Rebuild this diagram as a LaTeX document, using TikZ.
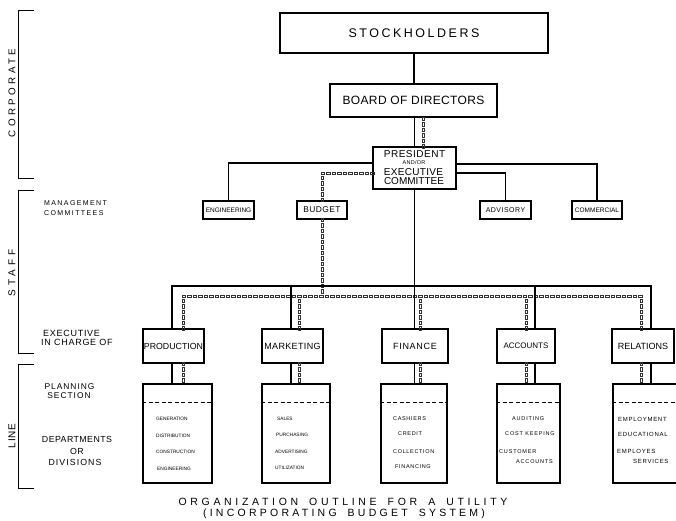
\documentclass[tikz,border=0pt]{standalone}
\usepackage{fontspec}
\setmainfont{Liberation Sans}
\usetikzlibrary{decorations.markings}
\newcommand{\myfont}[3]{\fontsize{#1}{#2}\selectfont\addfontfeature{LetterSpace=#3}}
\tikzset{
  box/.style={draw, line width=1.3pt, inner sep=0pt, align=center},
  conn/.style={line width=1.3pt},
  chainln/.style={decoration={markings,
      mark=between positions 0 and 1 step 5.5pt with
      {\draw[line width=0.5pt, black!80] (-1.8pt,-1.2pt) rectangle (1.8pt,1.2pt);}},
    decorate},
  dline/.style={line width=0.8pt, dash pattern=on 4pt off 2.5pt},
  brk/.style={line width=0.9pt},
  txt/.style={inner sep=0pt},
  ltxt/.style={inner sep=0pt, anchor=west},
  ttl/.style={inner sep=0pt, font={\fontsize{10.5}{11}\selectfont\addfontfeature{LetterSpace=#1}\spaceskip=11pt}},
}
\begin{document}
\begin{tikzpicture}[x=1pt,y=-1pt]
\useasboundingbox (0,0) rectangle (676,521);

% ---- brackets and side labels ----
\draw[brk] (34,10) -- (18,10) -- (18,178) -- (34,178);
\draw[brk] (34,190) -- (18,190) -- (18,353) -- (34,353);
\draw[brk] (34,364) -- (18,364) -- (18,488) -- (34,488);
\node[txt, rotate=90, font=\myfont{9.8}{10}{35}] (corp) at (12,93) {CORPORATE};
\node[txt, rotate=90, font=\myfont{10}{10}{40}] (staff) at (12,273) {STAFF};
\node[txt, rotate=90, font=\myfont{10}{10}{8}] (linel) at (12,436) {LINE};

\node[ltxt, font=\myfont{7}{8}{20}] (lm1) at (44,203) {MANAGEMENT};
\node[ltxt, font=\myfont{7}{8}{20}] (lm2) at (44,213) {COMMITTEES};
\node[ltxt, font=\myfont{9}{9}{8}] (le1) at (43,333) {EXECUTIVE};
\node[ltxt, font=\myfont{9}{9}{8}] (le2) at (41,342) {IN CHARGE OF};
\node[txt, font=\myfont{8.4}{9}{12}] (lp1) at (69.5,387) {PLANNING};
\node[txt, font=\myfont{8.4}{9}{12}] (lp2) at (69,396) {SECTION};
\node[txt, font=\myfont{8.8}{9}{5}] (ld1) at (77,439.5) {DEPARTMENTS};
\node[txt, font=\myfont{8.8}{9}{5}] (ld2) at (77,451) {OR};
\node[txt, font=\myfont{8.8}{9}{12}] (ld3) at (75,462.5) {DIVISIONS};

% ---- corporate ----
\node[box, minimum width=268pt, minimum height=40pt, font=\myfont{12.5}{14}{20}] (stock) at (414,33) {STOCKHOLDERS};
\node[box, minimum width=167pt, minimum height=33pt, font=\myfont{12}{14}{3}] (board) at (413.5,100.5) {BOARD OF DIRECTORS};
\node[box, minimum width=83pt, minimum height=42pt] (pres) at (414.5,168) {};
\node[txt, font=\myfont{10}{10}{5}] (presA) at (414.5,154.5) {PRESIDENT};
\node[txt, font=\myfont{5.5}{6}{5}] (presB) at (414,162.5) {AND/OR};
\node[txt, font=\myfont{10}{10}{3}] (presC) at (413.5,172.5) {EXECUTIVE};
\node[txt, font=\myfont{10}{10}{0}] (presD) at (414,181.5) {COMMITTEE};

% ---- committees ----
\node[box, minimum width=51pt, minimum height=18pt, font=\myfont{6.5}{7}{0}] (eng) at (228.5,210) {ENGINEERING};
\node[box, minimum width=50pt, minimum height=18pt, font=\myfont{8.4}{9}{5}] (budget) at (322,210) {BUDGET};
\node[box, minimum width=51pt, minimum height=18pt, font=\myfont{7}{8}{7}] (adv) at (505.5,210) {ADVISORY};
\node[box, minimum width=50pt, minimum height=18pt, font=\myfont{6.5}{7}{0}] (comm) at (597,210) {COMMERCIAL};

% ---- executives ----
\node[box, minimum width=61pt, minimum height=34pt, font=\myfont{8.8}{9}{0}] (prod) at (173.5,346) {PRODUCTION};
\node[box, minimum width=61pt, minimum height=34pt, font=\myfont{9}{9}{4}] (mark) at (292.5,346) {MARKETING};
\node[box, minimum width=66pt, minimum height=34pt, font=\myfont{9}{9}{8}] (fin) at (415,346) {FINANCE};
\node[box, minimum width=58pt, minimum height=34pt, font=\myfont{8}{9}{0}] (acc) at (526,346) {ACCOUNTS};
\node[box, minimum width=62pt, minimum height=34pt, font=\myfont{9}{9}{0}] (rel) at (643,346) {RELATIONS};

% ---- departments ----
\node[box, minimum width=69pt, minimum height=99pt] (pd) at (177.5,433.5) {};
\node[box, minimum width=68pt, minimum height=99pt] (md) at (296,433.5) {};
\node[box, minimum width=66pt, minimum height=99pt] (fd) at (414,433.5) {};
\node[box, minimum width=63pt, minimum height=99pt] (ad) at (528.5,433.5) {};
\node[box, minimum width=65pt, minimum height=99pt] (rd) at (645.5,433.5) {};
\foreach \n in {pd,md,fd,ad,rd}
  \draw[dline] (\n.west |- 0,402) -- (\n.east |- 0,402);

\begin{scope}[every node/.style={inner sep=0pt, anchor=west}]
\node[font=\myfont{4.8}{5}{0}] (g1) at (156,419) {GENERATION};
\node[font=\myfont{4.8}{5}{0}] (g2) at (156,436) {DISTRIBUTION};
\node[font=\myfont{4.8}{5}{0}] (g3) at (156,452) {CONSTRUCTION};
\node[font=\myfont{4.8}{5}{0}] (g4) at (157,469) {ENGINEERING};
\node[font=\myfont{4.8}{5}{0}] (s1) at (277,419) {SALES};
\node[font=\myfont{4.8}{5}{0}] (s2) at (276,435) {PURCHASING};
\node[font=\myfont{4.8}{5}{0}] (s3) at (275,452) {ADVERTISING};
\node[font=\myfont{4.8}{5}{0}] (s4) at (275,468) {UTILIZATION};
\node[font=\myfont{5.5}{6}{12}] (c1) at (393,419) {CASHIERS};
\node[font=\myfont{5.5}{6}{12}] (c2) at (398,434) {CREDIT};
\node[font=\myfont{5.5}{6}{12}] (c3) at (393,452) {COLLECTION};
\node[font=\myfont{5.5}{6}{12}] (c4) at (395,467) {FINANCING};
\node[font=\myfont{5.5}{6}{15}] (a1) at (512,419) {AUDITING};
\node[font=\myfont{5.5}{6}{15}] (a2) at (505,434) {COST KEEPING};
\node[font=\myfont{5.5}{6}{15}] (a3) at (499,452) {CUSTOMER};
\node[font=\myfont{5.5}{6}{15}] (a4) at (516,462) {ACCOUNTS};
\node[font=\myfont{6}{6}{12}] (e1) at (618,419) {EMPLOYMENT};
\node[font=\myfont{6}{6}{12}] (e2) at (618,434) {EDUCATIONAL};
\node[font=\myfont{6}{6}{12}] (e3) at (617,451) {EMPLOYES};
\node[font=\myfont{6}{6}{12}] (e4) at (633,461) {SERVICES};
\end{scope}

% ---- title ----
\node[ttl=35] (t1) at (343,501.5) {ORGANIZATION OUTLINE FOR A UTILITY};
\node[ttl=31, anchor=base] (t2) at (344,516.3) {(INCORPORATING BUDGET SYSTEM)};

% ---- coordinates ----
\coordinate (bus) at (0,286);
\coordinate (dbus) at (0,296);
\coordinate (pb) at ([xshift=8.5pt]pres.north);
\coordinate (pw1) at ([yshift=5pt]pres.west);
\coordinate (pw2) at ([yshift=-5pt]pres.west);
\coordinate (pe1) at ([yshift=4pt]pres.east);
\coordinate (pe2) at ([yshift=-5pt]pres.east);
\coordinate (ps) at ([xshift=-1.5pt]prod.north);
\coordinate (ms) at ([xshift=-1.5pt]mark.north);
\coordinate (fs) at ([xshift=-0.5pt]fin.north);
\coordinate (as) at ([xshift=9pt]acc.north);
\coordinate (rs) at ([xshift=8pt]rel.north);
\coordinate (pq) at ([xshift=9.5pt]prod.north);
\coordinate (mq) at ([xshift=6.5pt]mark.north);
\coordinate (fq) at ([xshift=5pt]fin.north);
\coordinate (aq) at (acc.north);
\coordinate (rq) at ([xshift=-2pt]rel.north);

% ---- budget (chain) connectors ----
\path[chainln] (pb) -- (pb |- board.south);
\path[chainln] (pw2) -| (budget.north);
\path[chainln] (budget.south) -- (budget.south |- dbus);
\path[chainln] (pq) |- (rq |- dbus) -- (rq);
\path[chainln] (mq) -- (mq |- dbus);
\path[chainln] (fq) -- (fq |- dbus);
\path[chainln] (aq) -- (aq |- dbus);
\path[chainln] (pq |- prod.south) -- (pq |- pd.north);
\path[chainln] (mq |- mark.south) -- (mq |- md.north);
\path[chainln] (fq |- fin.south) -- (fq |- fd.north);
\path[chainln] (aq |- acc.south) -- (aq |- ad.north);
\path[chainln] (rq |- rel.south) -- (rq |- rd.north);

% ---- solid connectors ----
\draw[conn] (stock.south) -- (stock.south |- board.north);
\draw[conn] (pres.north) -- (pres.north |- board.south);
\draw[conn] (pw1) -| (eng.north);
\draw[conn] (pe1) -| (comm.north);
\draw[conn] (pe2) -| (adv.north);
\draw[conn] (pres.south) -- (fs);
\draw[conn] (ps) |- (rs |- bus) -- (rs);
\draw[conn] (ms) -- (ms |- bus);
\draw[conn] (as) -- (as |- bus);
\draw[conn] (ps |- prod.south) -- (ps |- pd.north);
\draw[conn] (ms |- mark.south) -- (ms |- md.north);
\draw[conn] (fs |- fin.south) -- (fs |- fd.north);
\draw[conn] (as |- acc.south) -- (as |- ad.north);
\draw[conn] (rs |- rel.south) -- (rs |- rd.north);
\end{tikzpicture}
\end{document}
